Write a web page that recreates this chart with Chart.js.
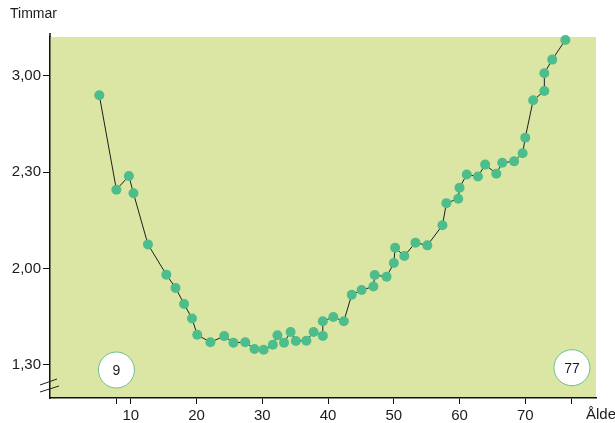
<!DOCTYPE html>
<html>
<head>
<meta charset="utf-8">
<script src="https://cdn.jsdelivr.net/npm/chart.js@4.4.1/dist/chart.umd.min.js"></script>
<style>
  html, body { margin: 0; padding: 0; background: #ffffff; }
  canvas { display: block; }
</style>
</head>
<body>
<canvas id="c" width="615" height="423"></canvas>
<script>
// Data: age (years) and time (hours, decimal)
const ages = [5.2, 7.8, 9.7, 10.4, 12.6, 15.4, 16.8, 18.1, 19.3, 20.1, 22.1, 24.2, 25.6, 27.4, 28.8, 30.2, 31.6, 32.3, 33.3, 34.3, 35.1, 36.7, 37.8, 39.2, 39.2, 40.8, 42.4, 43.6, 45.1, 46.9, 47.1, 48.9, 50.0, 50.2, 51.6, 53.3, 55.1, 57.4, 58.0, 59.8, 60.0, 61.1, 62.8, 63.9, 65.6, 66.5, 68.3, 69.6, 70.0, 71.2, 72.9, 72.9, 74.1, 76.1];
const hours = [2.900, 2.410, 2.481, 2.391, 2.126, 1.969, 1.900, 1.817, 1.741, 1.657, 1.618, 1.650, 1.616, 1.618, 1.583, 1.579, 1.605, 1.654, 1.616, 1.671, 1.625, 1.626, 1.671, 1.651, 1.727, 1.749, 1.727, 1.865, 1.889, 1.907, 1.967, 1.958, 2.029, 2.109, 2.066, 2.135, 2.121, 2.225, 2.340, 2.363, 2.420, 2.489, 2.478, 2.540, 2.493, 2.550, 2.557, 2.599, 2.680, 2.874, 2.922, 3.014, 3.085, 3.187];

// Age markers (circled numbers)
const markerAges = [7.8, 77.1];
const markerHours = [1.474, 1.486];
const markerLabels = ['9', '77'];

// Tick values and labels
const xTickValues = [7.8, 10, 20, 30, 40, 50, 60, 70, 77.1];
const xTickLabels = ['', '10', '20', '30', '40', '50', '60', '70', ''];
const yTickValues = [1.5, 2.0, 2.5, 3.0];
const yTickLabels = ['1,30', '2,00', '2,30', '3,00'];

const yTitle = 'Timmar';
const xTitle = 'Ålder';

const FONT = '"Liberation Sans", Arial, sans-serif';
const TEXT = '#1c1c1c';

const decorPlugin = {
  id: 'decor',
  beforeDraw(chart) {
    const { ctx, chartArea: a } = chart;
    ctx.save();
    ctx.fillStyle = '#dce6a4';
    ctx.fillRect(a.left, a.top, a.right - a.left, a.bottom - a.top);
    ctx.restore();
  },
  afterDraw(chart) {
    const { ctx, chartArea: a } = chart;
    ctx.save();
    // y axis extension above plot
    ctx.strokeStyle = '#111';
    ctx.lineWidth = 1.5;
    ctx.beginPath();
    ctx.moveTo(a.left, a.top - 4);
    ctx.lineTo(a.left, a.top);
    ctx.stroke();
    // axis break marks
    ctx.lineWidth = 1;
    ctx.strokeStyle = '#222';
    ctx.beginPath();
    ctx.moveTo(a.left - 10, a.bottom - 13);
    ctx.lineTo(a.left + 7, a.bottom - 19);
    ctx.moveTo(a.left - 10, a.bottom - 6);
    ctx.lineTo(a.left + 9, a.bottom - 12);
    ctx.stroke();
    // titles
    ctx.fillStyle = TEXT;
    ctx.font = '14px ' + FONT;
    ctx.textBaseline = 'middle';
    ctx.textAlign = 'left';
    ctx.fillText(yTitle, 10, 14);
    ctx.font = '15px ' + FONT;
    ctx.fillText(xTitle, 586, 415);
    // marker labels
    const meta = chart.getDatasetMeta(1);
    ctx.font = '14px ' + FONT;
    ctx.textAlign = 'center';
    meta.data.forEach((pt, i) => {
      ctx.fillText(markerLabels[i], pt.x, pt.y + 1);
    });
    ctx.restore();
  }
};

new Chart(document.getElementById('c'), {
  type: 'scatter',
  data: {
    datasets: [
      {
        data: ages.map((a, i) => ({ x: a, y: hours[i] })),
        showLine: true,
        borderColor: '#1e1e1e',
        borderWidth: 1,
        pointRadius: 5,
        pointBackgroundColor: '#4cbd8b',
        pointBorderColor: '#4cbd8b',
        pointBorderWidth: 0,
        clip: false
      },
      {
        data: markerAges.map((a, i) => ({ x: a, y: markerHours[i] })),
        showLine: false,
        pointRadius: 18,
        pointBackgroundColor: '#ffffff',
        pointBorderColor: '#6dbf94',
        pointBorderWidth: 1,
        clip: false
      }
    ]
  },
  options: {
    responsive: false,
    animation: false,
    layout: { padding: { left: 0, right: 18, top: 37, bottom: 0 } },
    plugins: { legend: { display: false }, tooltip: { enabled: false } },
    scales: {
      x: {
        type: 'linear',
        min: -2.30,
        max: 80.76,
        afterBuildTicks: s => { s.ticks = xTickValues.map(v => ({ value: v })); },
        afterFit: s => { s.height = 25; },
        ticks: {
          autoSkip: false,
          maxRotation: 0,
          padding: 3,
          color: TEXT,
          font: { family: FONT, size: 15 },
          callback: (v, i) => xTickLabels[i]
        },
        grid: { drawOnChartArea: false, drawTicks: true, tickLength: 6, color: '#111', lineWidth: 1 },
        border: { display: true, color: '#111', width: 1.5 }
      },
      y: {
        type: 'linear',
        min: 1.3287,
        max: 3.2024,
        afterBuildTicks: s => { s.ticks = yTickValues.map(v => ({ value: v })); },
        afterFit: s => { s.width = 50; },
        ticks: {
          autoSkip: false,
          padding: 2,
          color: TEXT,
          font: { family: FONT, size: 15 },
          callback: (v, i) => yTickLabels[i]
        },
        grid: { drawOnChartArea: false, drawTicks: true, tickLength: 7, color: '#111', lineWidth: 1 },
        border: { display: true, color: '#111', width: 1.5 }
      }
    }
  },
  plugins: [decorPlugin]
});
</script>
</body>
</html>
